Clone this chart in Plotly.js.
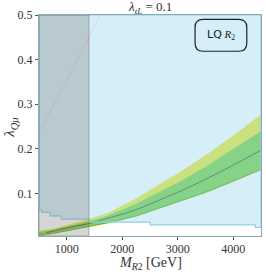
<!DOCTYPE html>
<html><head><meta charset="utf-8">
<script src="https://cdn.plot.ly/plotly-3.0.1.min.js"></script>
<style>html,body{margin:0;padding:0;background:#fff}#c{width:266px;height:272px}</style>
</head><body><div id="c"></div>
<script>
// band masses (GeV)
var bandMass = [500, 750, 1000, 1400, 1750, 2250, 2750, 3000, 3500, 4000, 4500];
var yellowTop = [0.017, 0.021, 0.029, 0.043, 0.057, 0.089, 0.127, 0.145, 0.186, 0.230, 0.277];
var greenTop  = [0.014, 0.019, 0.026, 0.038, 0.051, 0.077, 0.109, 0.124, 0.160, 0.200, 0.240];
var greenBot  = [0.007, 0.011, 0.017, 0.026, 0.035, 0.050, 0.071, 0.081, 0.103, 0.128, 0.154];
var yellowBot = [0.005, 0.009, 0.015, 0.024, 0.033, 0.048, 0.069, 0.079, 0.101, 0.126, 0.152];
// central line
var lineMass = [640, 1000, 1400, 1750, 2250, 2750, 3000, 3500, 4000, 4500];
var lineVal  = [0.0125, 0.023, 0.033, 0.045, 0.064, 0.090, 0.103, 0.132, 0.164, 0.197];
// excluded (blue) region lower boundary, stepped
var boundMass = [500, 550, 550, 700, 700, 900, 900, 1400, 1400, 2500, 2500, 4400, 4400, 4500];
var boundVal  = [0.063, 0.063, 0.058, 0.058, 0.050, 0.050, 0.043, 0.043, 0.036, 0.036, 0.030, 0.030, 0.024, 0.024];
// faint diagonal line
var diagMass = [500, 800, 1100, 1400, 1600];
var diagVal  = [0.238, 0.305, 0.378, 0.450, 0.500];
var xRange = [500, 4500], yRange = [0.005, 0.5];
var grayEdge = 1400;

var yellow = 'rgb(240,236,70)', green = 'rgb(135,214,80)';
var traces = [
  {x: bandMass, y: yellowBot, mode: 'lines', line: {width: 0, color: yellow}, hoverinfo: 'skip'},
  {x: bandMass, y: yellowTop, mode: 'lines', fill: 'tonexty', fillcolor: yellow, line: {width: 0, color: yellow}, hoverinfo: 'skip'},
  {x: bandMass, y: greenBot, mode: 'lines', line: {width: 1, color: 'rgba(70,165,60,0.8)'}, hoverinfo: 'skip'},
  {x: bandMass, y: greenTop, mode: 'lines', fill: 'tonexty', fillcolor: green, line: {width: 0, color: green}, hoverinfo: 'skip'},
  {x: lineMass, y: lineVal, mode: 'lines', line: {width: 1, color: '#4f6455', shape: 'spline'}, hoverinfo: 'skip'},
  {x: boundMass.concat([xRange[1], xRange[0], xRange[0]]),
   y: boundVal.concat([yRange[1], yRange[1], boundVal[0]]),
   mode: 'lines', fill: 'toself', fillcolor: 'rgba(135,206,235,0.35)',
   line: {width: 1.2, color: '#8fd0e6'}, hoverinfo: 'skip'},
  {x: diagMass, y: diagVal, mode: 'lines', line: {width: 1, color: 'rgba(225,195,225,0.75)', shape: 'spline'}, hoverinfo: 'skip'}
];

var serif = 'Liberation Serif, DejaVu Serif, serif';
var layout = {
  width: 266, height: 272,
  margin: {l: 39, r: 5, t: 15, b: 36},
  paper_bgcolor: '#fff', plot_bgcolor: '#fff',
  showlegend: false,
  xaxis: {range: xRange, tickvals: [1000, 2000, 3000, 4000], ticktext: ['1000', '2000', '3000', '4000'],
          ticks: 'outside', ticklen: 3, tickcolor: '#555', showgrid: false, zeroline: false,
          showline: true, linecolor: '#8aa9b3', linewidth: 1, mirror: true, ticklabelstandoff: -1,
          tickfont: {family: serif, size: 12, color: '#333'}},
  yaxis: {range: yRange, tickvals: [0.1, 0.2, 0.3, 0.4, 0.5], ticktext: ['0.1', '0.2', '0.3', '0.4', '0.5'],
          ticks: 'outside', ticklen: 3, tickcolor: '#555', showgrid: false, zeroline: false,
          showline: true, linecolor: '#8aa9b3', linewidth: 1, mirror: true,
          tickfont: {family: serif, size: 12, color: '#333'}},
  shapes: [
    {type: 'rect', xref: 'x', yref: 'y', x0: xRange[0], x1: grayEdge, y0: yRange[0], y1: yRange[1],
     fillcolor: 'rgba(128,128,128,0.33)', line: {width: 1, color: 'rgba(120,120,120,0.55)'}, layer: 'above'},
    {type: 'path', xref: 'paper', yref: 'paper', layer: 'above',
     path: 'M 0.739 0.980 L 0.899 0.980 Q 0.936 0.980 0.936 0.944 L 0.936 0.872 Q 0.936 0.836 0.899 0.836 L 0.739 0.836 Q 0.703 0.836 0.703 0.872 L 0.703 0.944 Q 0.703 0.980 0.739 0.980 Z',
     line: {width: 1.2, color: '#222'}, fillcolor: 'rgba(0,0,0,0)'}
  ],
  annotations: [
    {xref: 'paper', yref: 'paper', x: 0.5, y: 1.034, xanchor: 'center', yanchor: 'middle', showarrow: false,
     text: '<i>λ</i><sub><i>tL</i></sub> = 0.1', font: {family: serif, size: 13, color: '#333'}},
    {xref: 'paper', yref: 'paper', x: 0.82, y: 0.908, xanchor: 'center', yanchor: 'middle', showarrow: false,
     text: '<span style="font-family:DejaVu Sans">LQ</span> <i>R</i><sub>2</sub>', font: {family: serif, size: 11, color: '#222'}},
    {xref: 'paper', yref: 'paper', x: 0.5, y: -0.125, xanchor: 'center', yanchor: 'middle', showarrow: false, borderpad: 0,
     text: '<i>M</i><sub><i>R</i>2</sub> [GeV]', font: {family: serif, size: 14, color: '#333'}},
    {xref: 'paper', yref: 'paper', x: -0.13, y: 0.49, xanchor: 'center', yanchor: 'middle', showarrow: false, textangle: -90,
     text: '<i>λ</i><sub><i>Qμ</i></sub>', font: {family: serif, size: 15, color: '#333'}}
  ]
};
Plotly.newPlot('c', traces, layout, {staticPlot: true, displayModeBar: false});
</script></body></html>
